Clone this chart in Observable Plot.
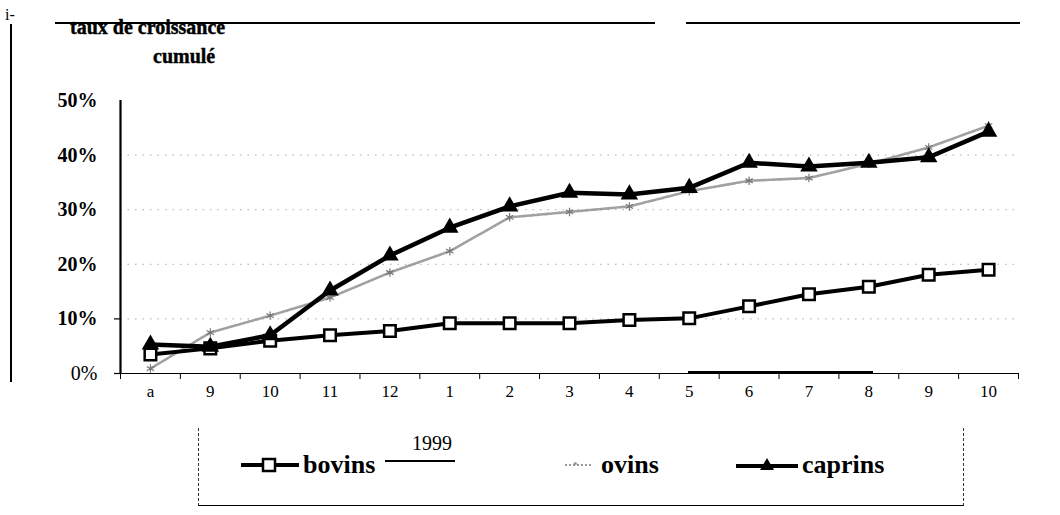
<!DOCTYPE html>
<html>
<head>
<meta charset="utf-8">
<script src="https://cdn.jsdelivr.net/npm/d3@7"></script>
<script src="https://cdn.jsdelivr.net/npm/@observablehq/plot@0.6"></script>
<style>
  html, body { margin: 0; padding: 0; background: #fff; }
  #page { position: relative; width: 1060px; height: 515px; overflow: hidden; font-family: "Liberation Serif", "DejaVu Serif", serif; color: #000; }
  #page > svg { position: absolute; left: 0; top: 0; }
  .abs { position: absolute; white-space: nowrap; }
  .line { position: absolute; background: #000; }
  .title { font-family: "Liberation Serif", serif; font-weight: 900; font-size: 20px; -webkit-text-stroke: 0.4px #000; }
  .legend { position: absolute; left: 198px; top: 428px; width: 764px; height: 77px;
            border-left: 1px dashed #333; border-right: 1px dashed #333; border-bottom: 1.5px solid #000; }
  .item { position: absolute; top: 22px; display: flex; align-items: center; font-size: 26px; font-weight: bold; }
  .item svg { margin-right: 4px; }
</style>
</head>
<body>
<div id="page">
  <!-- sheet edges around the figure -->
  <div class="abs" style="left:5px;top:6px;font-size:16px;">i-</div>
  <div class="line" style="left:10px;top:24px;width:1.5px;height:358px;"></div>
  <div class="line" style="left:55px;top:22px;width:600px;height:2px;"></div>
  <div class="line" style="left:686px;top:22px;width:334px;height:2px;"></div>

  <div class="abs title" style="left:70px;top:16px;">taux de croissance</div>
  <div class="abs title" style="left:153px;top:45px;">cumulé</div>

  <div class="abs" style="left:412px;top:432px;font-size:20px;">1999</div>
  <div class="line" style="left:385px;top:460px;width:70px;height:2px;"></div>

  <div class="legend">
    <div class="item" style="left:42px;">
      <svg width="58" height="20"><line x1="0" y1="10" x2="58" y2="10" stroke="#000" stroke-width="4"/><rect x="22" y="4" width="12" height="12" fill="#fff" stroke="#000" stroke-width="2.5"/></svg>bovins
    </div>
    <div class="item" style="left:362px;">
      <svg width="36" height="20"><line x1="4" y1="10" x2="32" y2="10" stroke="#999" stroke-width="2" stroke-dasharray="2,2"/><text x="12" y="13" font-size="9" fill="#888">*</text></svg>ovins
    </div>
    <div class="item" style="left:537px;">
      <svg width="62" height="20"><line x1="0" y1="11" x2="62" y2="11" stroke="#000" stroke-width="4"/><path d="M31,3 L38,15 L24,15 Z" fill="#000"/></svg>caprins
    </div>
  </div>
</div>
<script>
// Months from August 1998 to October 1999
const monthLabels = ["a", "9", "10", "11", "12", "1", "2", "3", "4", "5", "6", "7", "8", "9", "10"];

// Cumulative growth rate (%) per herd type
const bovins  = [3.5, 4.6, 6.0, 7.0, 7.8, 9.2, 9.2, 9.2, 9.8, 10.1, 12.3, 14.5, 15.9, 18.1, 19.0];
const ovins   = [0.9, 7.5, 10.6, 13.9, 18.5, 22.4, 28.6, 29.6, 30.6, 33.4, 35.3, 35.8, 38.4, 41.4, 45.4];
const caprins = [5.3, 4.9, 7.0, 15.2, 21.6, 26.7, 30.6, 33.1, 32.8, 34.0, 38.6, 37.9, 38.6, 39.6, 44.3];

const yTicks = [0, 10, 20, 30, 40, 50];

const toRows = (values, serie) => values.map((v, i) => ({i, serie, v}));
const rowsB = toRows(bovins, "bovins");
const rowsO = toRows(ovins, "ovins");
const rowsC = toRows(caprins, "caprins");

const idx = d3.range(monthLabels.length);
const bounds = d3.range(monthLabels.length + 1).map(i => i - 0.5);
const pct = d => d + "%";

const chart = Plot.plot({
  width: 1060,
  height: 400,
  marginLeft: 120,
  marginRight: 42,
  marginTop: 100,
  marginBottom: 27,
  style: {background: "transparent", fontFamily: "Liberation Serif", color: "#000"},
  x: {type: "linear", domain: [-0.5, monthLabels.length - 0.5], label: null},
  y: {domain: [0, 50], label: null},
  marks: [
    Plot.gridY([10, 20, 30, 40], {stroke: "#888", strokeOpacity: 0.7, strokeDasharray: "1.5,6"}),
    // month labels centred in each slot, ticks on the slot boundaries
    Plot.axisX(idx, {tickSize: 0, tickPadding: 11, tickFormat: i => monthLabels[i], fontSize: 17, label: null}),
    Plot.axisX(bounds, {tickSize: 6, tickFormat: () => "", strokeWidth: 1, label: null}),
    Plot.axisY(yTicks.slice(1), {tickSize: 0, tickPadding: 23, tickFormat: pct, fontSize: 20, fontWeight: "bold", label: null}),
    Plot.axisY([0], {tickSize: 0, tickPadding: 23, tickFormat: pct, fontSize: 20, label: null}),
    Plot.axisY([0, 10], {tickSize: 6, tickFormat: () => "", strokeWidth: 1.2, label: null}),
    Plot.ruleY([0], {x1: -0.5, x2: monthLabels.length - 0.5, strokeWidth: 1.2}),
    Plot.ruleX([-0.5], {y1: 0, y2: 50, strokeWidth: 2.2}),
    // sheep: faint grey line
    Plot.line(rowsO, {x: "i", y: "v", stroke: "#8a8a8a", strokeWidth: 2.6, strokeDasharray: "3,1.5", strokeOpacity: 0.8}),
    Plot.dot(rowsO, {x: "i", y: "v", symbol: "asterisk", r: 4, stroke: "#777", strokeWidth: 1.2}),
    // cattle
    Plot.line(rowsB, {x: "i", y: "v", stroke: "#000", strokeWidth: 4}),
    Plot.dot(rowsB, {x: "i", y: "v", symbol: "square", r: 6.5, fill: "#fff", stroke: "#000", strokeWidth: 2.5}),
    // goats
    Plot.line(rowsC, {x: "i", y: "v", stroke: "#000", strokeWidth: 4.5}),
    Plot.dot(rowsC, {x: "i", y: "v", symbol: "triangle", r: 6.5, fill: "#000"})
  ]
});
document.getElementById("page").prepend(chart);

// heavy stroke lying on the axis under months 6 to 8
const mark = document.createElement("div");
mark.className = "line";
mark.style.cssText = "left:688px;top:371px;width:185px;height:3px;";
document.getElementById("page").appendChild(mark);
</script>
</body>
</html>
